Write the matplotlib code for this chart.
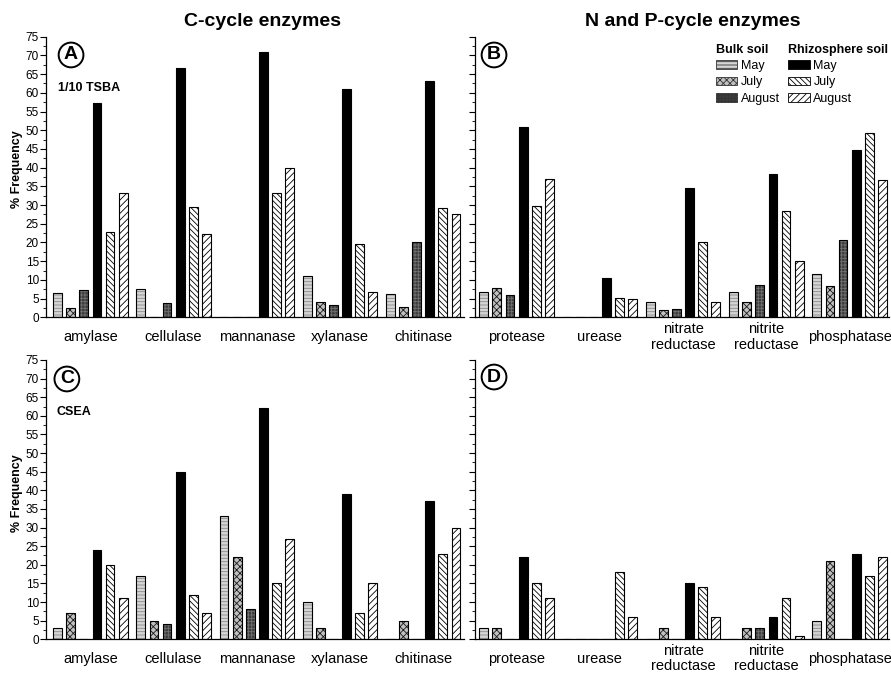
import numpy as np
import matplotlib
matplotlib.use('Agg')
import matplotlib.pyplot as plt
from matplotlib.patches import Patch

plt.rcParams['font.family'] = ['Liberation Sans', 'DejaVu Sans']
plt.rcParams['hatch.linewidth'] = 0.6

c_enzymes = ['amylase', 'cellulase', 'mannanase', 'xylanase', 'chitinase']
np_enzymes = ['protease', 'urease', 'nitrate\nreductase', 'nitrite\nreductase', 'phosphatase']
series_names = ['May', 'July', 'August']

# panel A: 1/10 TSBA, C-cycle
a_bulk_may = [6.4, 7.7, 0, 11.0, 6.2]
a_bulk_july = [2.4, 0, 0, 4.2, 2.7]
a_bulk_aug = [7.4, 3.9, 0, 3.2, 20.0]
a_rhizo_may = [57.3, 66.6, 70.8, 61.0, 63.1]
a_rhizo_july = [22.8, 29.4, 33.2, 19.5, 29.2]
a_rhizo_aug = [33.3, 22.2, 40.0, 6.9, 27.5]

# panel B: 1/10 TSBA, N and P-cycle
b_bulk_may = [6.7, 0, 4.0, 6.7, 11.5]
b_bulk_july = [7.8, 0, 1.9, 4.1, 8.4]
b_bulk_aug = [5.9, 0, 2.2, 8.6, 20.7]
b_rhizo_may = [50.9, 10.6, 34.5, 38.4, 44.8]
b_rhizo_july = [29.7, 5.1, 20.1, 28.3, 49.2]
b_rhizo_aug = [37.0, 4.8, 4.1, 15.0, 36.7]

# panel C: CSEA, C-cycle
c_bulk_may = [3, 17, 33, 10, 0]
c_bulk_july = [7, 5, 22, 3, 5]
c_bulk_aug = [0, 4, 8, 0, 0]
c_rhizo_may = [24, 45, 62, 39, 37]
c_rhizo_july = [20, 12, 15, 7, 23]
c_rhizo_aug = [11, 7, 27, 15, 30]

# panel D: CSEA, N and P-cycle
d_bulk_may = [3, 0, 0, 0, 5]
d_bulk_july = [3, 0, 3, 3, 21]
d_bulk_aug = [0, 0, 0, 3, 0]
d_rhizo_may = [22, 0, 15, 6, 23]
d_rhizo_july = [15, 18, 14, 11, 17]
d_rhizo_aug = [11, 6, 6, 1, 22]

# (facecolor, hatch, hatch colour) per series
styles = [
    ('#d4d4d4', '-----', '#8a8a8a'),
    ('#c0c0c0', 'xxxxx', '#1a1a1a'),
    ('#3c3c3c', '+++++', '#707070'),
    ('#000000', '', '#000000'),
    ('#ffffff', '\\\\\\\\\\\\', '#000000'),
    ('#ffffff', '/////', '#000000'),
]

GROUP = 6.35
WIDTH = 0.67


def drawPanel(ax, series, cats, letter, left_labels, note=None):
    for j, vals in enumerate(series):
        fc, hatch, hc = styles[j]
        x = np.arange(len(cats)) * GROUP + j
        ax.bar(x, vals, WIDTH, color=fc, hatch=hatch, edgecolor=hc, linewidth=0)
        ax.bar(x, vals, WIDTH, fill=False, edgecolor='black', linewidth=0.8)

    centers = np.arange(len(cats)) * GROUP + 2.5
    for cx, name in zip(centers, cats):
        ax.text(cx, -0.07, name, transform=ax.get_xaxis_transform(), ha='center', va='center',
                fontsize=10.5, linespacing=1.1)

    ax.set_ylim(0, 75)
    ax.set_yticks(np.arange(0, 76, 5))
    ax.set_yticks(np.arange(2.5, 75, 5), minor=True)
    ax.set_xticks([])
    ax.tick_params(axis='y', which='major', length=4, width=0.8, labelsize=8.5, pad=1,
                   labelleft=left_labels)
    ax.tick_params(axis='y', which='minor', length=2, width=0.6)
    ax.spines['top'].set_visible(False)
    ax.spines['right'].set_visible(False)
    ax.spines['left'].set_linewidth(0.9)
    ax.spines['bottom'].set_linewidth(0.9)

    lx, ly = letter[1], letter[2]
    ax.text(lx, ly, letter[0], transform=ax.transAxes, ha='center', va='center',
            fontsize=14, fontweight='bold',
            bbox=dict(boxstyle='circle,pad=0.2', fc='white', ec='black', lw=1.4))
    if note:
        ax.text(note[1], note[2], note[0], transform=ax.transAxes, ha='left', va='center',
                fontsize=9, fontweight='bold')


fig = plt.figure(figsize=(8.91, 6.74), dpi=100)

axA = fig.add_axes([0.0516, 0.5292, 0.469, 0.4163])
axB = fig.add_axes([0.5331, 0.5292, 0.4646, 0.4163])
axC = fig.add_axes([0.0516, 0.0515, 0.469, 0.4144])
axD = fig.add_axes([0.5331, 0.0515, 0.4646, 0.4144])

drawPanel(axA, [a_bulk_may, a_bulk_july, a_bulk_aug, a_rhizo_may, a_rhizo_july, a_rhizo_aug],
          c_enzymes, ('A', 0.060, 0.935), True, ('1/10 TSBA', 0.029, 0.817))
drawPanel(axB, [b_bulk_may, b_bulk_july, b_bulk_aug, b_rhizo_may, b_rhizo_july, b_rhizo_aug],
          np_enzymes, ('B', 0.046, 0.935), False)
drawPanel(axC, [c_bulk_may, c_bulk_july, c_bulk_aug, c_rhizo_may, c_rhizo_july, c_rhizo_aug],
          c_enzymes, ('C', 0.050, 0.932), True, ('CSEA', 0.024, 0.815))
drawPanel(axD, [d_bulk_may, d_bulk_july, d_bulk_aug, d_rhizo_may, d_rhizo_july, d_rhizo_aug],
          np_enzymes, ('D', 0.046, 0.939), False)

for ax in (axA, axC):
    ax.set_xlim(-0.89, 31.0)
for ax in (axB, axD):
    ax.set_xlim(-0.67, 30.9)

# legend in panel B
bulk_handles = []
rhizo_handles = []
for j in range(3):
    fc, hatch, hc = styles[j]
    bulk_handles.append(Patch(facecolor=fc, hatch=hatch, edgecolor='#333333', linewidth=0.6))
    fc, hatch, hc = styles[j + 3]
    rhizo_handles.append(Patch(facecolor=fc, hatch=hatch, edgecolor='black', linewidth=0.6))

leg_kw = dict(loc='upper left', frameon=False, alignment='left', fontsize=9,
              handlelength=1.7, handleheight=0.7, handletextpad=0.3, labelspacing=0.35,
              borderpad=0, borderaxespad=0,
              title_fontproperties={'weight': 'bold', 'size': 9})
leg1 = axB.legend(bulk_handles, series_names, title='Bulk soil', bbox_to_anchor=(0.582, 0.975), **leg_kw)
axB.add_artist(leg1)
axB.legend(rhizo_handles, series_names, title='Rhizosphere soil', bbox_to_anchor=(0.757, 0.975), **leg_kw)

fig.text(17 / 891, 1 - 169 / 674, '% Frequency', rotation=90, ha='center', va='center',
         fontsize=9, fontweight='bold')
fig.text(17 / 891, 1 - 493 / 674, '% Frequency', rotation=90, ha='center', va='center',
         fontsize=9, fontweight='bold')

fig.text(263 / 891, 1 - 22 / 674, 'C-cycle enzymes', ha='center', va='center',
         fontsize=14, fontweight='bold')
fig.text(693 / 891, 1 - 22 / 674, 'N and P-cycle enzymes', ha='center', va='center',
         fontsize=14, fontweight='bold')

fig.savefig('out.png', dpi=100)
